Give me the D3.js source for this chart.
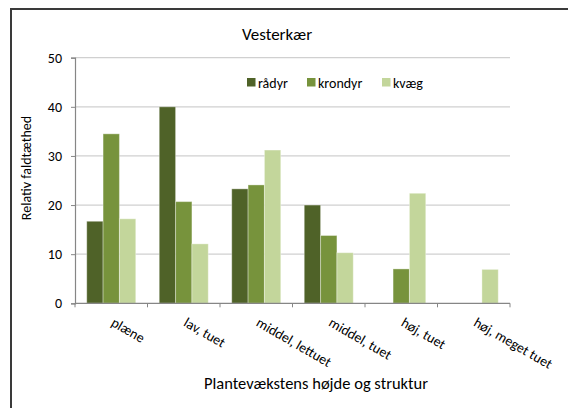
<!DOCTYPE html>
<html>
<head>
<meta charset="utf-8">
<script src="https://cdn.jsdelivr.net/npm/d3@7"></script>
<style>
  html, body { margin: 0; padding: 0; background: #fff; }
  svg { display: block; }
  text { font-family: Carlito, Calibri, Lato, "Open Sans", sans-serif; fill: #000; }
</style>
</head>
<body>
<svg id="chart" width="568" height="408"></svg>
<script>
// Plant height / structure classes
const categories = ["plæne", "lav, tuet", "middel, lettuet", "middel, tuet", "høj, tuet", "høj, meget tuet"];
const seriesNames = ["rådyr", "krondyr", "kvæg"];
// Relative dropping density per class
const raadyr  = [16.7, 40.0, 23.3, 20.0, 0, 0];
const krondyr = [34.5, 20.7, 24.1, 13.8, 7.0, 0];
const kvaeg   = [17.2, 12.1, 31.2, 10.3, 22.4, 6.9];
const yTicks = [0, 10, 20, 30, 40, 50];
const colors = ["#4F6228", "#77933C", "#C3D69B"];

const values = [raadyr, krondyr, kvaeg];
const rows = categories.map((c, i) => ({
  cat: c,
  vals: seriesNames.map((s, j) => ({ series: s, value: values[j][i], idx: j }))
}));

const svg = d3.select("#chart");

// chart frame
svg.append("rect")
  .attr("x", 11).attr("y", 9)
  .attr("width", 600).attr("height", 450)
  .attr("fill", "none").attr("stroke", "#3a3a3a").attr("stroke-width", 2);

const plotLeft = 75, plotRight = 510, plotTop = 57.7, plotBottom = 303.3;

const x0 = d3.scaleBand().domain(categories).range([plotLeft, plotRight]).padding(0);
const x1 = d3.scaleBand().domain(seriesNames)
  .range([x0.bandwidth() * 0.162, x0.bandwidth() * 0.838]).padding(0);
const y = d3.scaleLinear().domain([0, 50]).range([plotBottom, plotTop]);

// gridlines
svg.append("g")
  .selectAll("line")
  .data(yTicks.filter(t => t > 0))
  .join("line")
  .attr("x1", plotLeft).attr("x2", plotRight)
  .attr("y1", d => y(d)).attr("y2", d => y(d))
  .attr("stroke", "#d0d0d0").attr("stroke-width", 1.3);

// bars
svg.append("g")
  .selectAll("g")
  .data(rows)
  .join("g")
  .attr("transform", d => `translate(${x0(d.cat)},0)`)
  .selectAll("rect")
  .data(d => d.vals.filter(v => v.value > 0))
  .join("rect")
  .attr("x", d => x1(d.series))
  .attr("width", x1.bandwidth())
  .attr("y", d => y(d.value))
  .attr("height", d => y(0) - y(d.value))
  .attr("fill", d => colors[d.idx])
  .attr("stroke", "rgba(255,255,255,0.35)")
  .attr("stroke-width", 1);

// y axis
const yAxis = svg.append("g")
  .attr("transform", `translate(${plotLeft},0)`)
  .call(d3.axisLeft(y).tickValues(yTicks).tickSize(4).tickPadding(9));
yAxis.select(".domain").attr("stroke", "#868686").attr("stroke-width", 1.2);
yAxis.selectAll(".tick line").attr("stroke", "#868686");
yAxis.selectAll(".tick text").style("font-size", "14px").attr("fill", "#000");

// x axis
const tickPos = d3.range(categories.length + 1).map(i => plotLeft + i * x0.bandwidth());
const xAxis = svg.append("g");
xAxis.append("line")
  .attr("x1", plotLeft).attr("x2", plotRight)
  .attr("y1", plotBottom).attr("y2", plotBottom)
  .attr("stroke", "#868686").attr("stroke-width", 1.2);
xAxis.selectAll("line.tk")
  .data(tickPos)
  .join("line")
  .attr("class", "tk")
  .attr("x1", d => d).attr("x2", d => d)
  .attr("y1", plotBottom).attr("y2", plotBottom + 4)
  .attr("stroke", "#868686");

// rotated category labels
svg.append("g")
  .selectAll("text")
  .data(categories)
  .join("text")
  .attr("transform", d => `translate(${x0(d) + x0.bandwidth() / 2 - 1},${plotBottom + 22}) rotate(30)`)
  .attr("text-anchor", "start")
  .style("font-size", "14px")
  .text(d => d);

// title
svg.append("text")
  .attr("x", 277).attr("y", 40)
  .attr("text-anchor", "middle")
  .style("font-size", "17px")
  .text("Vesterkær");

// axis titles
svg.append("text")
  .attr("x", 316).attr("y", 389)
  .attr("text-anchor", "middle")
  .style("font-size", "16.5px")
  .text("Plantevækstens højde og struktur");

svg.append("text")
  .attr("transform", "translate(31,168) rotate(-90)")
  .attr("text-anchor", "middle")
  .style("font-size", "14px")
  .text("Relativ faldtæthed");

// legend
const legendX = [247, 307, 382];
const legend = svg.append("g")
  .selectAll("g")
  .data(seriesNames)
  .join("g")
  .attr("transform", (d, i) => `translate(${legendX[i]},78)`);
legend.append("rect")
  .attr("width", 8.5).attr("height", 8.5)
  .attr("fill", (d, i) => colors[i]);
legend.append("text")
  .attr("x", 11).attr("y", 9.5)
  .style("font-size", "14px")
  .text(d => d);
</script>
</body>
</html>
